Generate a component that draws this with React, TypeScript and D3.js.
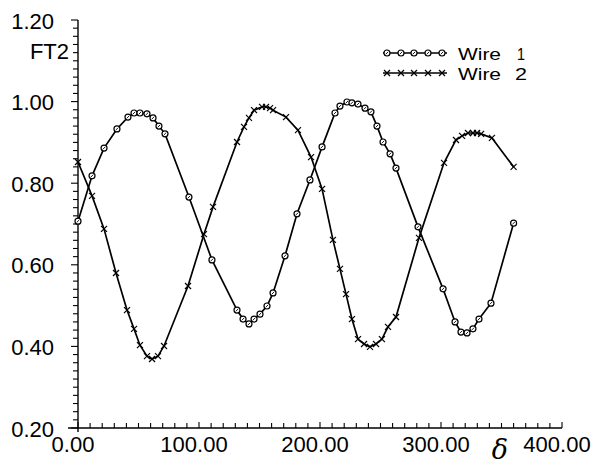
import React from "react";
import * as d3 from "d3";

// Wire 1 (circles)
const wire1X = [0, 11.6, 21.5, 32.2, 41.3, 46.3, 51.2, 57.0, 62.0, 66.9, 71.9, 91.7, 110.7, 131.4, 136.4, 141.3, 145.5, 150.4, 156.2, 161.2, 171.1, 181.0, 191.7, 201.7, 212.4, 216.5, 222.3, 226.4, 231.4, 237.2, 242.1, 247.1, 252.1, 257.9, 262.8, 281.0, 301.7, 311.6, 316.5, 321.5, 326.4, 331.4, 341.3, 360];
const wire1Y = [0.707, 0.818, 0.886, 0.933, 0.962, 0.972, 0.972, 0.970, 0.960, 0.940, 0.921, 0.766, 0.612, 0.489, 0.467, 0.455, 0.467, 0.479, 0.499, 0.531, 0.622, 0.725, 0.808, 0.889, 0.972, 0.989, 0.999, 0.997, 0.994, 0.984, 0.975, 0.940, 0.901, 0.872, 0.837, 0.693, 0.541, 0.460, 0.435, 0.433, 0.443, 0.467, 0.506, 0.702];

// Wire 2 (crosses)
const wire2X = [0, 11.6, 21.5, 31.4, 40.5, 46.3, 51.2, 57.0, 61.2, 66.1, 71.1, 90.9, 104.1, 111.6, 131.4, 137.2, 141.3, 145.5, 152.1, 155.4, 158.7, 161.2, 171.9, 181.8, 192.6, 201.7, 210.7, 216.5, 221.5, 226.4, 231.4, 236.4, 241.3, 246.3, 251.2, 256.2, 262.8, 281.8, 302.5, 312.4, 317.4, 322.3, 326.4, 329.8, 333.1, 342.1, 360];
const wire2Y = [0.852, 0.769, 0.688, 0.580, 0.489, 0.443, 0.403, 0.376, 0.369, 0.376, 0.401, 0.548, 0.675, 0.742, 0.901, 0.938, 0.960, 0.979, 0.987, 0.987, 0.984, 0.979, 0.962, 0.930, 0.864, 0.786, 0.661, 0.590, 0.528, 0.467, 0.418, 0.406, 0.399, 0.406, 0.418, 0.448, 0.472, 0.666, 0.850, 0.906, 0.916, 0.923, 0.923, 0.923, 0.921, 0.911, 0.840];

const xTickLabels = ["0.00", "100.00", "200.00", "300.00", "400.00"];
const xTickValues = [0, 100, 200, 300, 400];
const yTickLabels = ["0.20", "0.40", "0.60", "0.80", "1.00", "1.20"];
const yTickValues = [0.2, 0.4, 0.6, 0.8, 1.0, 1.2];
const legendLabels = ["Wire", "Wire"];
const legendNumbers = ["1", "2"];

const W = 596;
const H = 468;
const FONT = "'Liberation Sans', Arial, sans-serif";

export default function App() {
  const x = d3.scaleLinear().domain([0, 400]).range([78, 562]);
  const y = d3.scaleLinear().domain([0.2, 1.2]).range([428, 20]);

  const line = d3
    .line<[number, number]>()
    .x((d) => x(d[0]))
    .y((d) => y(d[1]));

  const pts1: [number, number][] = wire1X.map((v, i) => [v, wire1Y[i]]);
  const pts2: [number, number][] = wire2X.map((v, i) => [v, wire2Y[i]]);

  const xMinor = d3.range(0, 401, 10);
  const yMinor = d3.range(0, 51).map((i) => 0.2 + i * 0.02);

  const circleMark = (cx: number, cy: number, k: string) => (
    <g key={k}>
      <circle cx={cx} cy={cy} r={3} fill="white" stroke="black" strokeWidth={1.2} />
      <line x1={cx - 1.3} y1={cy + 1.3} x2={cx + 1.3} y2={cy - 1.3} stroke="black" strokeWidth={0.9} />
    </g>
  );
  const crossMark = (cx: number, cy: number, k: string) => (
    <g key={k} stroke="black" strokeWidth={1.2}>
      <line x1={cx - 3} y1={cy - 3} x2={cx + 3} y2={cy + 3} />
      <line x1={cx - 3} y1={cy + 3} x2={cx + 3} y2={cy - 3} />
    </g>
  );

  const legX0 = 383;
  const legX1 = 447;
  const legRows = [53, 73];
  const legMarks = [387, 401, 414, 428, 442];

  return (
    <svg
      width={W}
      height={H}
      style={{ position: "absolute", left: 0, top: 0, background: "white" }}
      fontFamily={FONT}
    >
      <rect x={0} y={0} width={W} height={H} fill="white" />
      {/* axes */}
      <line x1={x(0)} y1={y(1.2)} x2={x(0)} y2={y(0.2) + 4} stroke="black" strokeWidth={1.4} />
      <line x1={x(0) - 10} y1={y(0.2)} x2={x(400)} y2={y(0.2)} stroke="black" strokeWidth={1.4} />
      {yMinor.map((v, i) => (
        <line
          key={"ym" + i}
          x1={x(0) - (i % 10 === 0 ? 7 : 5)}
          x2={x(0)}
          y1={y(v)}
          y2={y(v)}
          stroke="black"
          strokeWidth={1.1}
        />
      ))}
      {xMinor.map((v, i) => (
        <line
          key={"xm" + i}
          x1={x(v)}
          x2={x(v)}
          y1={y(0.2)}
          y2={y(0.2) - (i % 10 === 0 ? 6 : 5)}
          stroke="black"
          strokeWidth={1.1}
        />
      ))}
      {yTickValues.map((v, i) => (
        <text key={"yl" + i} x={54} y={y(v) + 8.5} textAnchor="end" fontSize={22} fill="black">
          {yTickLabels[i]}
        </text>
      ))}
      {xTickValues.map((v, i) => (
        <text key={"xl" + i} x={x(v) - 5} y={452} textAnchor="middle" fontSize={22} fill="black">
          {xTickLabels[i]}
        </text>
      ))}
      <text x={69} y={59} textAnchor="end" fontSize={22} fill="black">
        FT2
      </text>
      <text
        x={500}
        y={459}
        textAnchor="middle"
        fontSize={27}
        fontStyle="italic"
        fontFamily="'DejaVu Serif', 'Liberation Serif', serif"
        fill="black"
      >
        δ
      </text>

      {/* lines */}
      <path d={line(pts1) || ""} fill="none" stroke="black" strokeWidth={1.7} />
      <path d={line(pts2) || ""} fill="none" stroke="black" strokeWidth={1.7} />
      {pts1.map((p, i) => circleMark(x(p[0]), y(p[1]), "c" + i))}
      {pts2.map((p, i) => crossMark(x(p[0]), y(p[1]), "x" + i))}

      {/* legend */}
      {legRows.map((ly, r) => (
        <g key={"leg" + r}>
          <line x1={legX0} x2={legX1} y1={ly} y2={ly} stroke="black" strokeWidth={1.4} />
          {legMarks.map((mx, j) =>
            r === 0 ? circleMark(mx, ly, "lc" + j) : crossMark(mx, ly, "lx" + j)
          )}
          <text x={458} y={ly + 7} fontSize={16} textLength={43} lengthAdjust="spacingAndGlyphs" fill="black">
            {legendLabels[r]}
          </text>
          <text x={r === 0 ? 517 : 515} y={ly + 7} fontSize={16} textLength={r === 0 ? 8 : 12} lengthAdjust="spacingAndGlyphs" fill="black">
            {legendNumbers[r]}
          </text>
        </g>
      ))}
    </svg>
  );
}
